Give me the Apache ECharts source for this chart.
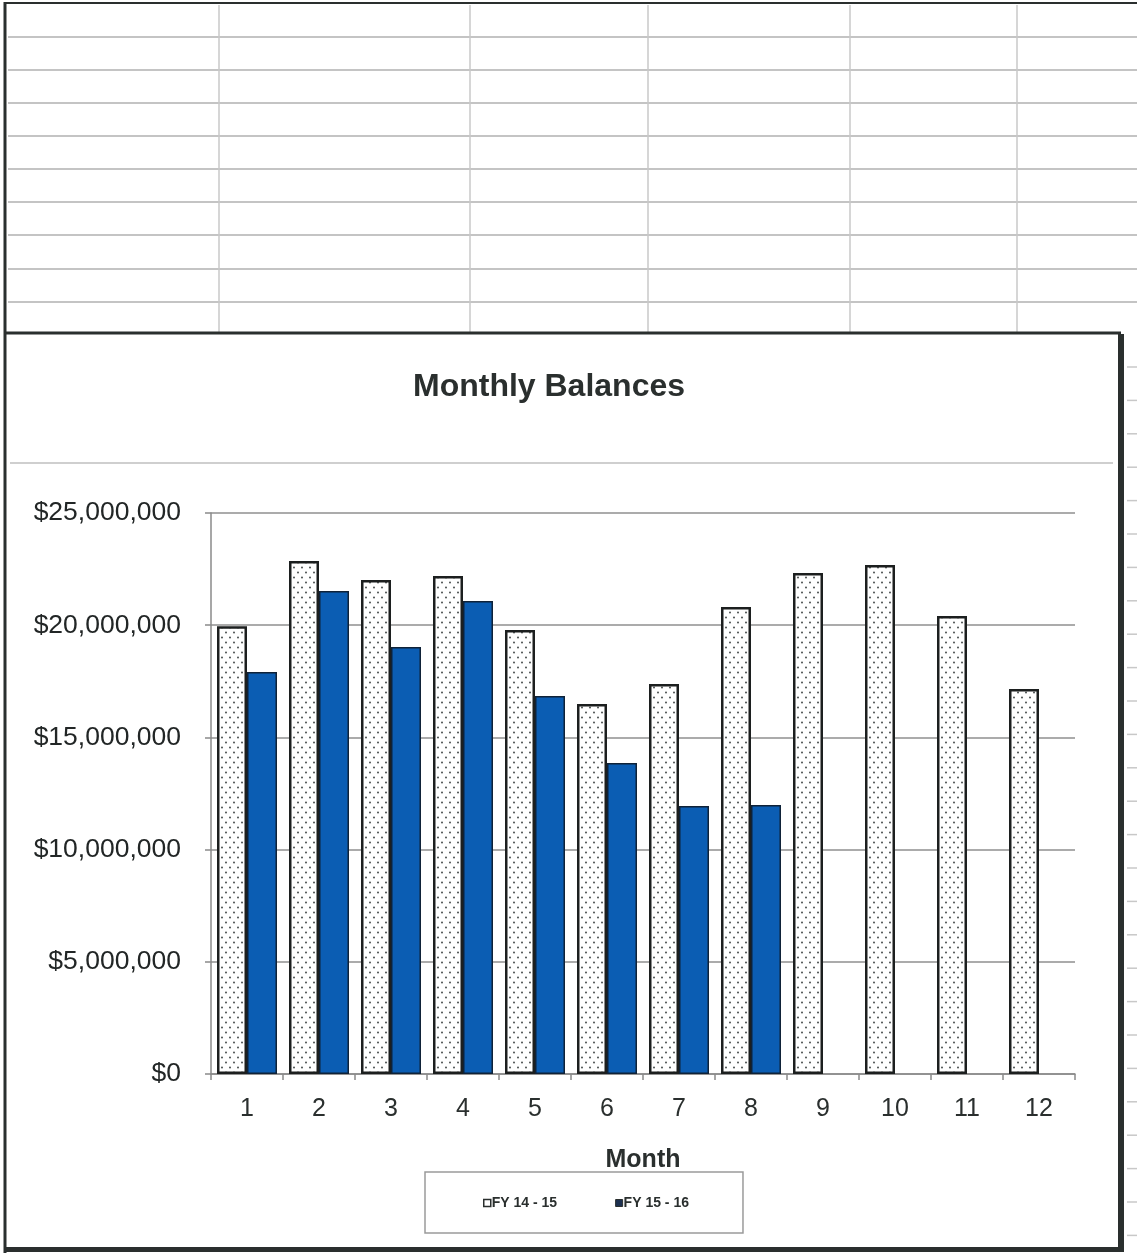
<!DOCTYPE html>
<html>
<head>
<meta charset="utf-8">
<style>
  html, body { margin: 0; padding: 0; background: #ffffff; }
  #chart { width: 1137px; height: 1260px; }
</style>
<script src="https://cdn.jsdelivr.net/npm/echarts@6/dist/echarts.min.js"></script>
</head>
<body>
<div id="chart"></div>
<script>
// ---- data ----
var months = ['1', '2', '3', '4', '5', '6', '7', '8', '9', '10', '11', '12'];
var fy1415 = [19950000, 22860000, 22010000, 22190000, 19790000, 16490000, 17380000, 20810000, 22330000, 22680000, 20410000, 17160000];
var fy1516 = [17910000, 21520000, 19030000, 21080000, 16840000, 13860000, 11940000, 11990000, null, null, null, null];
var seriesNames = ['FY 14 - 15', 'FY 15 - 16'];
var yTicks = { min: 0, max: 25000000, interval: 5000000 };

// dotted fill pattern for FY 14-15
var pat = document.createElement('canvas');
pat.width = 8; pat.height = 10;
var pc = pat.getContext('2d');
pc.fillStyle = '#ffffff';
pc.fillRect(0, 0, 8, 10);
pc.fillStyle = '#4a4f4f';
pc.beginPath(); pc.arc(2, 2.5, 1.0, 0, Math.PI * 2); pc.fill();
pc.beginPath(); pc.arc(6, 7.5, 1.0, 0, Math.PI * 2); pc.fill();

var FONT = '"Liberation Sans", Arial, Helvetica, sans-serif';
var INK = '#2a2f2e';

// ---- decorative spreadsheet background & chart frame ----
var deco = [];
var sheetRows = [37, 70, 103, 136, 169, 202, 235, 269, 302];
sheetRows.forEach(function (y) {
  deco.push({ type: 'line', shape: { x1: 8, y1: y, x2: 1137, y2: y }, style: { stroke: '#c4c4c4', lineWidth: 2 }, silent: true });
});
[219, 470, 648, 850, 1017].forEach(function (x) {
  deco.push({ type: 'line', shape: { x1: x, y1: 5, x2: x, y2: 332 }, style: { stroke: '#c8c8c8', lineWidth: 1.5 }, silent: true });
});
for (var yy = 367; yy < 1245; yy += 33.4) {
  deco.push({ type: 'line', shape: { x1: 1127, y1: yy, x2: 1137, y2: yy }, style: { stroke: '#c8c8c8', lineWidth: 1.5 }, silent: true });
}
// outer sheet border
deco.push({ type: 'line', shape: { x1: 5, y1: 3, x2: 1137, y2: 3 }, style: { stroke: INK, lineWidth: 2 }, silent: true });
deco.push({ type: 'line', shape: { x1: 5, y1: 2, x2: 5, y2: 1253 }, style: { stroke: INK, lineWidth: 3 }, silent: true });
// chart frame
deco.push({ type: 'line', shape: { x1: 5, y1: 333, x2: 1121, y2: 333 }, style: { stroke: INK, lineWidth: 3 }, silent: true });
deco.push({ type: 'rect', shape: { x: 1118, y: 334, width: 6, height: 918 }, style: { fill: INK }, silent: true });
deco.push({ type: 'rect', shape: { x: 5, y: 1247, width: 1119, height: 5 }, style: { fill: INK }, silent: true });
// title separator
deco.push({ type: 'line', shape: { x1: 10, y1: 463, x2: 1113, y2: 463 }, style: { stroke: '#cfcfcf', lineWidth: 2 }, silent: true });

var chart = echarts.init(document.getElementById('chart'), null, { renderer: 'canvas' });
chart.setOption({
  backgroundColor: '#ffffff',
  animation: false,
  textStyle: { fontFamily: FONT },
  graphic: { elements: deco },
  title: {
    text: 'Monthly Balances',
    left: 544,
    top: 366,
    textAlign: 'center',
    textStyle: { fontFamily: FONT, fontSize: 32, fontWeight: 'bold', color: INK }
  },
  legend: {
    left: 425,
    top: 1172,
    padding: [24, 54, 23, 58],
    borderColor: '#9a9a9a',
    borderWidth: 1.5,
    itemGap: 58,
    itemWidth: 7,
    itemHeight: 7,
    textStyle: { fontFamily: FONT, fontSize: 14, fontWeight: 'bold', color: INK, padding: [0, 0, 0, -4] },
    data: [
      { name: seriesNames[0], icon: 'rect', itemStyle: { color: '#ffffff', borderColor: INK, borderWidth: 1.5 } },
      { name: seriesNames[1], icon: 'rect', itemStyle: { color: '#1d3050', borderColor: INK, borderWidth: 1 } }
    ]
  },
  grid: { left: 211, right: 62, top: 513, bottom: 186, containLabel: false },
  xAxis: {
    type: 'category',
    data: months,
    boundaryGap: true,
    name: 'Month',
    nameLocation: 'middle',
    nameGap: 74,
    nameTextStyle: { fontFamily: FONT, fontSize: 25, fontWeight: 'bold', color: INK },
    axisLine: { lineStyle: { color: '#8a8a8a', width: 1.5 } },
    axisTick: { show: true, alignWithLabel: false, length: 6, lineStyle: { color: '#8a8a8a', width: 1.5 } },
    axisLabel: { margin: 23, fontFamily: FONT, fontSize: 25, color: INK }
  },
  yAxis: {
    type: 'value',
    min: yTicks.min,
    max: yTicks.max,
    interval: yTicks.interval,
    axisLine: { show: true, lineStyle: { color: '#8a8a8a', width: 1.5 } },
    axisTick: { show: true, length: 6, lineStyle: { color: '#8a8a8a', width: 1.5 } },
    splitLine: { show: true, lineStyle: { color: '#8f8f8f', width: 1.5 } },
    axisLabel: {
      margin: 30,
      fontFamily: FONT,
      fontSize: 26.5,
      color: '#222626',
      formatter: function (v) { return '$' + Number(v).toLocaleString('en-US'); }
    }
  },
  series: [
    {
      name: seriesNames[0],
      type: 'bar',
      data: fy1415,
      barWidth: 30,
      barGap: '0%',
      itemStyle: { color: { image: pat, repeat: 'repeat' }, borderColor: '#1c1f1f', borderWidth: 2.5 }
    },
    {
      name: seriesNames[1],
      type: 'bar',
      data: fy1516,
      barWidth: 30,
      barGap: '0%',
      itemStyle: { color: '#0b5db3', borderColor: '#0f2238', borderWidth: 1.5 }
    }
  ]
});
</script>
</body>
</html>
